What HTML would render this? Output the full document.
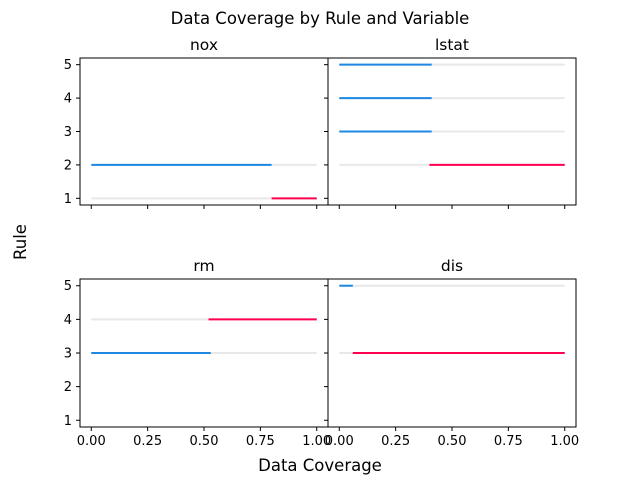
<!DOCTYPE html>
<html><head><meta charset="utf-8"><style>
body{margin:0;background:#fff}
svg text{font-family:"DejaVu Sans","Liberation Sans",sans-serif;fill:#000}
</style></head><body>
<svg id="c" width="640" height="480" viewBox="0 0 640 480">
<text x="320" y="24" font-size="16.5" text-anchor="middle">Data Coverage by Rule and Variable</text>
<text x="320" y="471" font-size="16.5" text-anchor="middle">Data Coverage</text>
<text x="26" y="242" font-size="16.5" text-anchor="middle" transform="rotate(-90 26 242)">Rule</text>
</svg>
<script>
const panelNames=["nox","lstat","rm","dis"];
// segments per panel: [rule, start, end, type]  type: g=gray full, b=blue, r=red
const noxSegs=[[1,0,1,"g"],[1,0.8,1.0,"r"],[2,0,1,"g"],[2,0,0.8,"b"]];
const lstatSegs=[[5,0,1,"g"],[5,0,0.41,"b"],[4,0,1,"g"],[4,0,0.41,"b"],[3,0,1,"g"],[3,0,0.41,"b"],[2,0,1,"g"],[2,0.4,1.0,"r"]];
const rmSegs=[[4,0,1,"g"],[4,0.52,1.0,"r"],[3,0,1,"g"],[3,0,0.53,"b"]];
const disSegs=[[5,0,1,"g"],[5,0,0.06,"b"],[3,0,1,"g"],[3,0.06,1.0,"r"]];
const xTicks=[0,0.25,0.5,0.75,1.0];
const xTickLabels=["0.00","0.25","0.50","0.75","1.00"];
const yTicks=[1,2,3,4,5];
const allSegs=[noxSegs,lstatSegs,rmSegs,disSegs];
const colors={g:"#e8e8e8",b:"#1e88e5",r:"#ff0051"};
const svg=document.getElementById('c');
const NS="http://www.w3.org/2000/svg";
function mk(t,a){const e=document.createElementNS(NS,t);for(const k in a)e.setAttribute(k,a[k]);svg.appendChild(e);return e;}
const boxes=[[80,58,248,147],[328,58,248,147],[80,279,248,148],[328,279,248,148]];
boxes.forEach((b,i)=>{
  const [L,T,W,H]=b;
  const sx=v=>L+(v+0.05)/1.1*W;
  const sy=v=>T+(5.2-v)/4.4*H;
  allSegs[i].forEach(s=>{
    const l=mk('line',{x1:sx(s[1]),x2:sx(s[2]),y1:sy(s[0]),y2:sy(s[0]),stroke:colors[s[3]],'stroke-width':2});
    
    
  });
  const r=mk('rect',{x:L,y:T,width:W,height:H,fill:'none',stroke:'#000','stroke-width':1});
  
  
  const t=mk('text',{x:L+W/2,y:T-8,'font-size':15.5,'text-anchor':'middle'});
  t.textContent=panelNames[i];
  
  
  yTicks.forEach(v=>{
    mk('line',{x1:L-4,x2:L,y1:sy(v),y2:sy(v),stroke:'#000'});
    if(i%2==0){const tx=mk('text',{x:L-8,y:sy(v)+4.5,'font-size':13,'text-anchor':'end'});tx.textContent=v;
      
      }
  });
  xTicks.forEach((v,j)=>{
    mk('line',{x1:sx(v),x2:sx(v),y1:T+H,y2:T+H+4,stroke:'#000'});
    if(i>=2){const tx=mk('text',{x:sx(v),y:T+H+18,'font-size':13,'text-anchor':'middle'});tx.textContent=xTickLabels[j];
      
      }
  });
});
</script>
</body></html>
